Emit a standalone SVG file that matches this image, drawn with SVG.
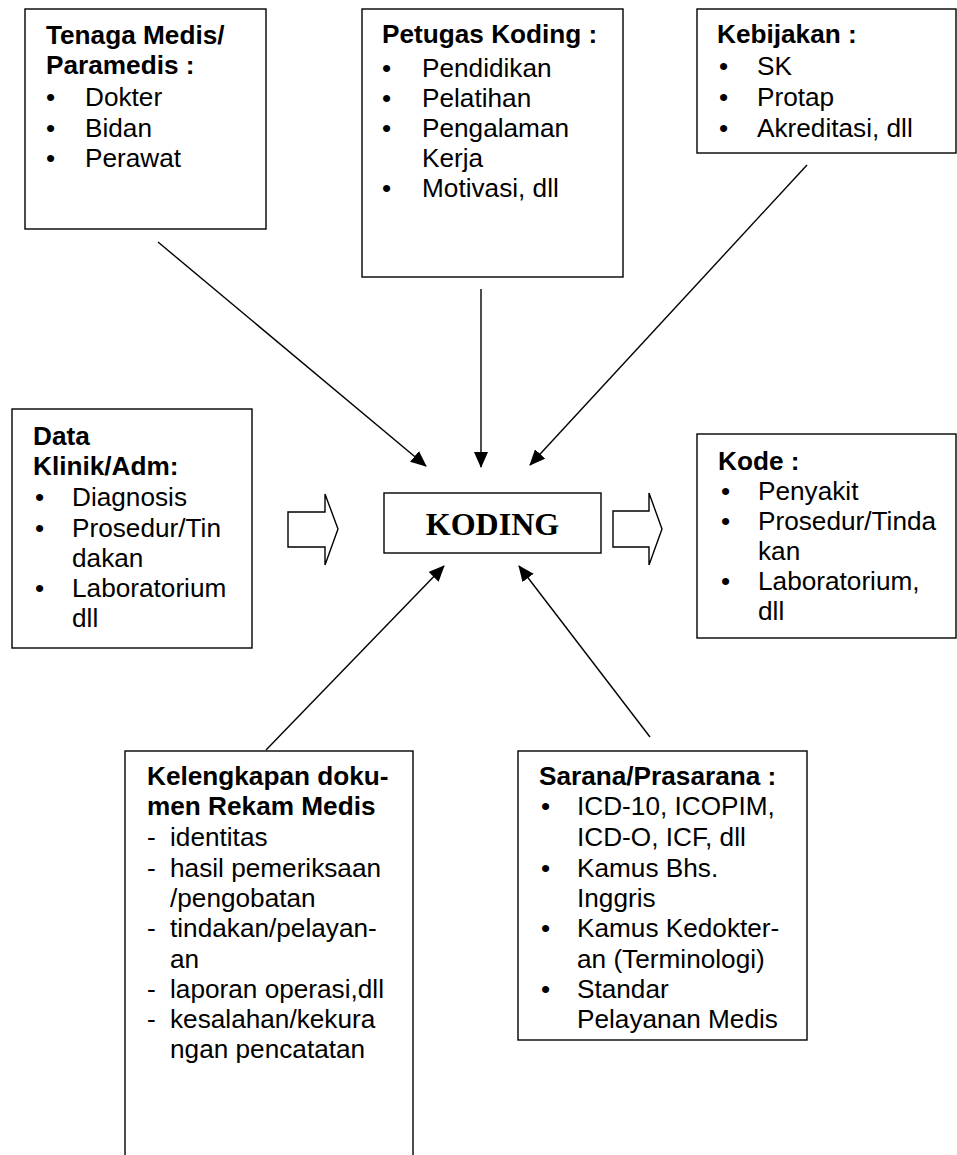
<svg xmlns="http://www.w3.org/2000/svg" width="957" height="1155" viewBox="0 0 957 1155">
<style>
.box{fill:#fff;stroke:#000;stroke-width:1.4}
.t{font-family:"Liberation Sans",Arial,sans-serif;font-size:26.2px;fill:#000}
.b{font-weight:bold}
.k{font-family:"Liberation Serif","Times New Roman",serif;font-size:32px;font-weight:bold;fill:#000}
.ln{stroke:#000;stroke-width:1.4;fill:none;marker-end:url(#ah)}
.blk{fill:#fff;stroke:#000;stroke-width:1.4}
</style>
<defs>
<marker id="ah" viewBox="0 0 16 14" refX="15" refY="7" markerWidth="16" markerHeight="14" markerUnits="userSpaceOnUse" orient="auto">
<path d="M0,0 L16,7 L0,14 Z" fill="#000"/>
</marker>
</defs>
<rect width="957" height="1155" fill="#fff"/>

<g id="tenaga">
<rect class="box" x="25" y="9" width="241" height="220"/>
<text class="t b" x="46" y="44">Tenaga Medis/</text>
<text class="t b" x="46" y="74">Paramedis :</text>
<text class="t" x="46" y="106">•</text><text class="t" x="85" y="106">Dokter</text>
<text class="t" x="46" y="137">•</text><text class="t" x="85" y="137">Bidan</text>
<text class="t" x="46" y="167">•</text><text class="t" x="85" y="167">Perawat</text>
</g>

<g id="petugas">
<rect class="box" x="362" y="9" width="261" height="268"/>
<text class="t b" x="382" y="43">Petugas Koding :</text>
<text class="t" x="382" y="77">•</text><text class="t" x="422" y="77">Pendidikan</text>
<text class="t" x="382" y="107">•</text><text class="t" x="422" y="107">Pelatihan</text>
<text class="t" x="382" y="137">•</text><text class="t" x="422" y="137">Pengalaman</text>
<text class="t" x="422" y="167">Kerja</text>
<text class="t" x="382" y="197">•</text><text class="t" x="422" y="197">Motivasi, dll</text>
</g>

<g id="kebijakan">
<rect class="box" x="697" y="9" width="259" height="144"/>
<text class="t b" x="717" y="43">Kebijakan :</text>
<text class="t" x="719" y="75">•</text><text class="t" x="757" y="75">SK</text>
<text class="t" x="719" y="106">•</text><text class="t" x="757" y="106">Protap</text>
<text class="t" x="719" y="137">•</text><text class="t" x="757" y="137">Akreditasi, dll</text>
</g>

<g id="data">
<rect class="box" x="12" y="409" width="240" height="239"/>
<text class="t b" x="33" y="445">Data</text>
<text class="t b" x="33" y="475">Klinik/Adm:</text>
<text class="t" x="35" y="506">•</text><text class="t" x="72" y="506">Diagnosis</text>
<text class="t" x="35" y="537">•</text><text class="t" x="72" y="537">Prosedur/Tin</text>
<text class="t" x="72" y="567">dakan</text>
<text class="t" x="35" y="597">•</text><text class="t" x="72" y="597">Laboratorium</text>
<text class="t" x="72" y="627">dll</text>
</g>

<g id="koding">
<rect class="box" x="384" y="493" width="217" height="60"/>
<text class="k" x="492.5" y="535" text-anchor="middle">KODING</text>
</g>

<g id="kode">
<rect class="box" x="697" y="434" width="259" height="204"/>
<text class="t b" x="718" y="470">Kode :</text>
<text class="t" x="721" y="500">•</text><text class="t" x="758" y="500">Penyakit</text>
<text class="t" x="721" y="530">•</text><text class="t" x="758" y="530">Prosedur/Tinda</text>
<text class="t" x="758" y="560">kan</text>
<text class="t" x="721" y="590">•</text><text class="t" x="758" y="590">Laboratorium,</text>
<text class="t" x="758" y="620">dll</text>
</g>

<g id="kelengkapan">
<rect class="box" x="125" y="751" width="288" height="420"/>
<text class="t b" x="147" y="785">Kelengkapan doku-</text>
<text class="t b" x="147" y="815">men Rekam Medis</text>
<text class="t" x="147" y="846">-</text><text class="t" x="170" y="846">identitas</text>
<text class="t" x="147" y="877">-</text><text class="t" x="170" y="877">hasil pemeriksaan</text>
<text class="t" x="170" y="907">/pengobatan</text>
<text class="t" x="147" y="937">-</text><text class="t" x="170" y="937">tindakan/pelayan-</text>
<text class="t" x="170" y="968">an</text>
<text class="t" x="147" y="998">-</text><text class="t" x="170" y="998">laporan operasi,dll</text>
<text class="t" x="147" y="1028">-</text><text class="t" x="170" y="1028">kesalahan/kekura</text>
<text class="t" x="170" y="1058">ngan pencatatan</text>
</g>

<g id="sarana">
<rect class="box" x="518" y="751" width="289" height="289"/>
<text class="t b" x="539" y="785">Sarana/Prasarana :</text>
<text class="t" x="541" y="815">•</text><text class="t" x="577" y="815">ICD-10, ICOPIM,</text>
<text class="t" x="577" y="846">ICD-O, ICF, dll</text>
<text class="t" x="541" y="877">•</text><text class="t" x="577" y="877">Kamus Bhs.</text>
<text class="t" x="577" y="907">Inggris</text>
<text class="t" x="541" y="937">•</text><text class="t" x="577" y="937">Kamus Kedokter-</text>
<text class="t" x="577" y="968">an (Terminologi)</text>
<text class="t" x="541" y="998">•</text><text class="t" x="577" y="998">Standar</text>
<text class="t" x="577" y="1028">Pelayanan Medis</text>
</g>

<g id="connectors">
<line class="ln" x1="158" y1="242" x2="426" y2="466"/>
<line class="ln" x1="481" y1="289" x2="481" y2="467"/>
<line class="ln" x1="807" y1="165" x2="530" y2="465"/>
<line class="ln" x1="266" y1="750" x2="444" y2="566"/>
<line class="ln" x1="650" y1="737" x2="519" y2="566"/>
<polygon class="blk" points="288,512 325,512 325,494 338,529 325,565 325,547 288,547"/>
<polygon class="blk" points="613,511 649,511 649,493 662,529 649,565 649,547 613,547"/>
</g>
</svg>
